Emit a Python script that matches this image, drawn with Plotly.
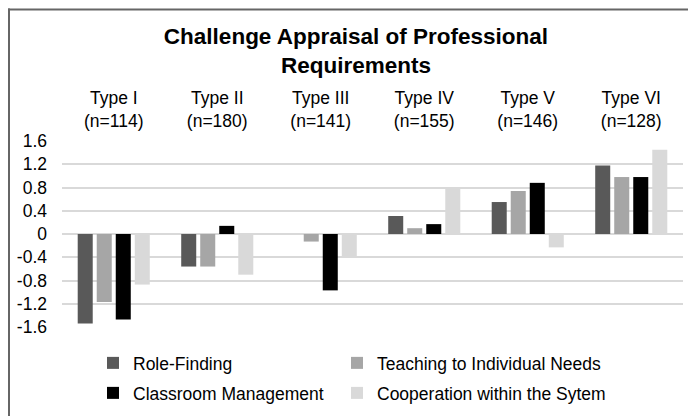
import plotly.graph_objects as go

categories = ["Type I<br>(n=114)", "Type II<br>(n=180)", "Type III<br>(n=141)",
              "Type IV<br>(n=155)", "Type V<br>(n=146)", "Type VI<br>(n=128)"]
series_names = ["Role-Finding", "Teaching to Individual Needs",
                "Classroom Management", "Cooperation within the Sytem"]
role_finding = [-1.54, -0.56, 0.0, 0.31, 0.55, 1.18]
teaching = [-1.17, -0.56, -0.13, 0.10, 0.74, 0.98]
classroom = [-1.47, 0.14, -0.97, 0.17, 0.88, 0.98]
cooperation = [-0.87, -0.70, -0.38, 0.79, -0.23, 1.45]
y_ticks = [1.6, 1.2, 0.8, 0.4, 0, -0.4, -0.8, -1.2, -1.6]
y_ticklabels = ["1.6", "1.2", "0.8", "0.4", "0", "-0.4", "-0.8", "-1.2", "-1.6"]

colors = ["#595959", "#a6a6a6", "#000000", "#d9d9d9"]
values = [role_finding, teaching, classroom, cooperation]
legends = ["legend", "legend2", "legend3", "legend4"]

W, H = 696, 416
L, R, T, B = 54, 21, 133, 97
pw, ph = W - L - R, H - T - B

fig = go.Figure()
for name, vals, c, lg in zip(series_names, values, colors, legends):
    fig.add_trace(go.Bar(x=categories, y=vals, name=name, marker_color=c,
                         marker_line_width=0, legend=lg))

def px_x(p):
    return (p - L) / pw

def px_y(p):
    return (H - B - p) / ph

border = "#666666"
fig.add_shape(type="line", xref="paper", yref="paper", layer="above",
              x0=px_x(0), x1=px_x(700), y0=px_y(1.5), y1=px_y(1.5),
              line=dict(color=border, width=2))
fig.add_shape(type="line", xref="paper", yref="paper", layer="above",
              x0=px_x(1), x1=px_x(1), y0=px_y(0.5), y1=px_y(420),
              line=dict(color=border, width=2))

FS = 17.5
leg_common = dict(orientation="h", xref="paper", yanchor="middle",
                  font=dict(size=FS), itemclick=False, itemdoubleclick=False,
                  bgcolor="rgba(0,0,0,0)")

fig.update_layout(
    width=W, height=H,
    margin=dict(l=L, r=R, t=T, b=B),
    paper_bgcolor="white", plot_bgcolor="white",
    font=dict(family="Liberation Sans, Arial, sans-serif", size=FS, color="#000000"),
    title=dict(text="<b>Challenge Appraisal of Professional<br>Requirements</b>",
               x=0.5, xanchor="center", y=1 - 36 / H, yanchor="top",
               font=dict(size=22.5, color="#000000")),
    barmode="group", bargap=0.265, bargroupgap=0.21,
    showlegend=True,
    legend=dict(x=px_x(85), y=px_y(355), **leg_common),
    legend2=dict(x=px_x(329), y=px_y(355), **leg_common),
    legend3=dict(x=px_x(85), y=px_y(385), **leg_common),
    legend4=dict(x=px_x(329), y=px_y(385), **leg_common),
    xaxis=dict(side="top", showgrid=False, showline=False, ticks="",
               tickfont=dict(size=FS), ticklabelstandoff=10, fixedrange=True,
               automargin=False),
    yaxis=dict(range=[-1.6, 1.6], tickvals=y_ticks, ticktext=y_ticklabels,
               showgrid=True, gridcolor="#d9d9d9", gridwidth=1.5,
               zeroline=True, zerolinecolor="#d9d9d9", zerolinewidth=1.5,
               showline=False, ticks="", tickfont=dict(size=FS),
               ticklabelstandoff=14, fixedrange=True, automargin=False),
)

fig.write_html("out.html")
